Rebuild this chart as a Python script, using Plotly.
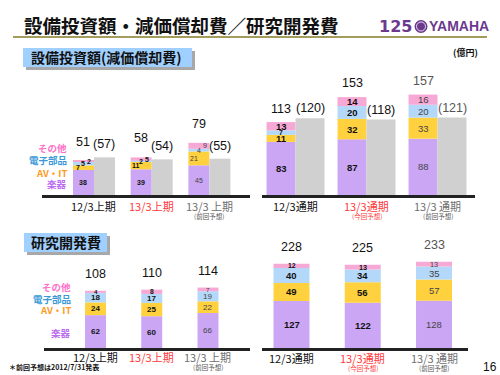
import numpy as np
import plotly.graph_objects as go

W, H = 500, 375
JP = "Noto Sans CJK JP"
NUM = "Liberation Sans"

# ---------------- data ----------------
segment_names = ["楽器", "AV・IT", "電子部品", "その他"]

capex_half_cats = ["12/3上期", "13/3上期", "13/3 上期"]
capex_half_sub = ["", "", "(前回予想)"]
capex_half_gakki = [38, 39, 45]
capex_half_avit = [7, 11, 21]
capex_half_denshi = [5, 2, 4]
capex_half_other = [2, 5, 9]
capex_half_total = [51, 58, 79]
depr_half = [57, 54, 55]

capex_full_cats = ["12/3通期", "13/3通期", "13/3 通期"]
capex_full_sub = ["", "(今回予想)", "(前回予想)"]
capex_full_gakki = [83, 87, 88]
capex_full_avit = [11, 32, 33]
capex_full_denshi = [7, 20, 20]
capex_full_other = [13, 14, 16]
capex_full_total = [113, 153, 157]
depr_full = [120, 118, 121]

rd_half_cats = ["12/3上期", "13/3上期", "13/3 上期"]
rd_half_sub = ["", "", "(前回予想)"]
rd_half_gakki = [62, 60, 66]
rd_half_avit = [24, 25, 22]
rd_half_denshi = [18, 17, 19]
rd_half_other = [4, 8, 7]
rd_half_total = [108, 110, 114]

rd_full_cats = ["12/3通期", "13/3通期", "13/3 通期"]
rd_full_sub = ["", "(今回予想)", "(前回予想)"]
rd_full_gakki = [127, 122, 128]
rd_full_avit = [49, 56, 57]
rd_full_denshi = [40, 34, 35]
rd_full_other = [12, 13, 13]
rd_full_total = [228, 225, 233]

# ---------------- style ----------------
seg_colors = ["#cba6f5", "#ffd13e", "#b3d8fa", "#f7a9d6"]
legend_colors = ["#bb6cf0", "#ff9a1e", "#3a9ad8", "#ff70c8"]
gray_color = "#d0d0d0"
cat_colors = ["#111111", "#ff3b3b", "#707070"]


def px(x):
    return x / W


def py(y):
    return 1 - y / H


panels = [
    dict(cats=capex_half_cats, sub=capex_half_sub,
         segs=[capex_half_gakki, capex_half_avit, capex_half_denshi, capex_half_other],
         total=capex_half_total, gray=depr_half,
         xdom=(42, 250), ydom=(95, 195), xr=(-0.901, 2.704), yr=(0, 151.5), w=0.364,
         seg_fs=7, seg_shift=[0, -5, 0, 6], tot_shift=19, gray_shift=13,
         lab_dy=11, sub_dy=21, tot_cols=["#111", "#111", "#111"]),
    dict(cats=capex_full_cats, sub=capex_full_sub,
         segs=[capex_full_gakki, capex_full_avit, capex_full_denshi, capex_full_other],
         total=capex_full_total, gray=depr_full,
         xdom=(262, 475), ydom=(60, 195), xr=(-0.472, 2.528), yr=(0, 211), w=0.408,
         seg_fs=9.5, seg_shift=[0, 0, 0, 0], tot_shift=14, gray_shift=10,
         lab_dy=11, sub_dy=21, tot_cols=["#111", "#111", "#555"]),
    dict(cats=rd_half_cats, sub=rd_half_sub,
         segs=[rd_half_gakki, rd_half_avit, rd_half_denshi, rd_half_other],
         total=rd_half_total, gray=None,
         xdom=(44, 250), ydom=(260, 348), xr=(-0.916, 2.747), yr=(0, 166), w=0.373,
         seg_fs=8, seg_shift=[0, 0, 0, 0], tot_shift=17, gray_shift=0,
         lab_dy=9, sub_dy=19, tot_cols=["#111", "#111", "#111"]),
    dict(cats=rd_full_cats, sub=rd_full_sub,
         segs=[rd_full_gakki, rd_full_avit, rd_full_denshi, rd_full_other],
         total=rd_full_total, gray=None,
         xdom=(262, 468), ydom=(230, 348), xr=(-0.414, 2.477), yr=(0, 319), w=0.505,
         seg_fs=9.5, seg_shift=[0, 0, 0, 0], tot_shift=17, gray_shift=0,
         lab_dy=10, sub_dy=20, tot_cols=["#111", "#111", "#555"]),
]

fig = go.Figure()
annotations = []
layout_axes = {}

for k, p in enumerate(panels, start=1):
    xa = "x" if k == 1 else f"x{k}"
    ya = "y" if k == 1 else f"y{k}"
    xkey = "xaxis" if k == 1 else f"xaxis{k}"
    ykey = "yaxis" if k == 1 else f"yaxis{k}"
    layout_axes[xkey] = dict(domain=[px(p["xdom"][0]), px(p["xdom"][1])], range=list(p["xr"]),
                             anchor=ya, showline=True, linecolor="#222", linewidth=3,
                             showgrid=False, zeroline=False, showticklabels=False, ticks="",
                             fixedrange=True)
    layout_axes[ykey] = dict(domain=[py(p["ydom"][1]), py(p["ydom"][0])], range=list(p["yr"]),
                             anchor=xa, visible=False, showgrid=False, zeroline=False,
                             fixedrange=True)
    n = len(p["cats"])
    idx = np.arange(n)
    w = p["w"]
    has_gray = p["gray"] is not None
    off = -w if has_gray else -w / 2
    ccenter = idx + off + w / 2
    px_per_unit = (p["ydom"][1] - p["ydom"][0]) / (p["yr"][1] - p["yr"][0])
    base = np.zeros(n)
    for j, seg in enumerate(p["segs"]):
        vals = np.array(seg, dtype=float)
        fig.add_trace(go.Bar(x=idx, y=vals, base=base.copy(), width=w, offset=off,
                             marker=dict(color=seg_colors[j], line=dict(width=0)),
                             xaxis=xa, yaxis=ya, showlegend=False, hoverinfo="skip"))
        for i in range(n):
            last = (i == n - 1)
            fs = p["seg_fs"] if k == 1 else max(6.0, min(p["seg_fs"], vals[i] * px_per_unit + 2.5))
            annotations.append(dict(
                x=ccenter[i], y=base[i] + vals[i] / 2, xref=xa, yref=ya,
                text=str(seg[i]), showarrow=False, xshift=p["seg_shift"][j],
                font=dict(family=NUM, size=fs, color="#444" if last else "#111",
                          weight="normal" if last else "bold")))
        base = base + vals
    for i in range(n):
        annotations.append(dict(x=ccenter[i], y=p["total"][i], xref=xa, yref=ya,
                                text=str(p["total"][i]), showarrow=False, yshift=p["tot_shift"],
                                font=dict(family=NUM, size=12.5, color=p["tot_cols"][i])))
    if has_gray:
        fig.add_trace(go.Bar(x=idx, y=p["gray"], width=w, offset=0,
                             marker=dict(color=gray_color, line=dict(width=0)),
                             xaxis=xa, yaxis=ya, showlegend=False, hoverinfo="skip"))
        for i in range(n):
            annotations.append(dict(x=idx[i] + w / 2, y=p["gray"][i], xref=xa, yref=ya,
                                    text=f"({p['gray'][i]})", showarrow=False,
                                    yshift=p["gray_shift"],
                                    font=dict(family=NUM, size=12.5, color=p["tot_cols"][i])))
    # category labels
    for i in range(n):
        annotations.append(dict(x=idx[i], y=py(p["ydom"][1] + p["lab_dy"]), xref=xa, yref="paper",
                                text=p["cats"][i], showarrow=False, yanchor="middle",
                                font=dict(family=JP, size=11, color=cat_colors[i])))
        if p["sub"][i]:
            annotations.append(dict(x=idx[i], y=py(p["ydom"][1] + p["sub_dy"]), xref=xa,
                                    yref="paper", text=p["sub"][i], showarrow=False,
                                    yanchor="middle",
                                    font=dict(family=JP, size=6.5,
                                              color=cat_colors[i] if i == 1 else "#555")))

# segment legends (text)
legend_pos_top = [184, 172.7, 159.5, 148]
legend_pos_bot = [333, 310, 299, 287]
for j, name in enumerate(segment_names):
    annotations.append(dict(x=px(69), y=py(legend_pos_top[j]), xref="paper", yref="paper",
                            text=name, showarrow=False, xanchor="right", yanchor="middle",
                            font=dict(family=JP, size=9.5, color=legend_colors[j], weight="bold")))
    annotations.append(dict(x=px(73), y=py(legend_pos_bot[j]), xref="paper", yref="paper",
                            text=name, showarrow=False, xanchor="right", yanchor="middle",
                            font=dict(family=JP, size=9.5, color=legend_colors[j], weight="bold")))

# title and page decorations
annotations += [
    dict(x=px(22), y=py(25), xref="paper", yref="paper", text="設備投資額・減価償却費／研究開発費",
         showarrow=False, xanchor="left", yanchor="middle",
         font=dict(family=JP, size=18.5, color="#111", weight="bold")),
    dict(x=px(377), y=py(26.5), xref="paper", yref="paper", text="125", showarrow=False,
         xanchor="left", yanchor="middle",
         font=dict(family="DejaVu Sans", size=16, color="#6b3a8e", weight="bold")),
    dict(x=px(427), y=py(26.5), xref="paper", yref="paper", text="YAMAHA", showarrow=False,
         xanchor="left", yanchor="middle",
         font=dict(family=NUM, size=14, color="#6b3a8e", weight="bold")),
    dict(x=px(29), y=py(57.5), xref="paper", yref="paper", text="設備投資額(減価償却費)",
         showarrow=False, xanchor="left", yanchor="middle",
         font=dict(family=JP, size=14, color="#111", weight="bold")),
    dict(x=px(29), y=py(242.5), xref="paper", yref="paper", text="研究開発費",
         showarrow=False, xanchor="left", yanchor="middle",
         font=dict(family=JP, size=14, color="#111", weight="bold")),
    dict(x=px(465), y=py(53), xref="paper", yref="paper", text="(億円)", showarrow=False,
         xanchor="center", yanchor="middle",
         font=dict(family=JP, size=9, color="#111", weight="bold")),
    dict(x=px(7), y=py(367), xref="paper", yref="paper", text="＊前回予想は2012/7/31発表",
         showarrow=False, xanchor="left", yanchor="middle",
         font=dict(family=JP, size=7, color="#111", weight="bold")),
    dict(x=px(490), y=py(367), xref="paper", yref="paper", text="16", showarrow=False,
         xanchor="center", yanchor="middle", font=dict(family=NUM, size=12, color="#111")),
]

shapes = [
    dict(type="line", xref="paper", yref="paper", x0=px(13), x1=px(487), y0=py(37), y1=py(37),
         line=dict(color="#a39c5a", width=2)),
    # header boxes with shadow
    dict(type="rect", xref="paper", yref="paper", x0=px(26), x1=px(195), y0=py(70), y1=py(51),
         fillcolor="#a8a8a8", line=dict(width=0)),
    dict(type="rect", xref="paper", yref="paper", x0=px(23), x1=px(192), y0=py(67), y1=py(48),
         fillcolor="#a0d0ff", line=dict(width=0)),
    dict(type="rect", xref="paper", yref="paper", x0=px(27), x1=px(110), y0=py(255), y1=py(236),
         fillcolor="#a8a8a8", line=dict(width=0)),
    dict(type="rect", xref="paper", yref="paper", x0=px(24), x1=px(107), y0=py(252), y1=py(233),
         fillcolor="#a0d0ff", line=dict(width=0)),
    # logo emblem
    dict(type="circle", xref="paper", yref="paper", x0=px(414.5), x1=px(427.5), y0=py(33), y1=py(20),
         fillcolor="#6b3a8e", line=dict(width=0)),
    dict(type="circle", xref="paper", yref="paper", x0=px(416.5), x1=px(425.5), y0=py(31), y1=py(22),
         fillcolor="rgba(0,0,0,0)", line=dict(color="#e8d8f0", width=1)),
]

fig.update_layout(
    width=W, height=H, margin=dict(l=0, r=0, t=0, b=0),
    paper_bgcolor="white", plot_bgcolor="rgba(0,0,0,0)",
    barmode="overlay", showlegend=False,
    annotations=annotations, shapes=shapes, **layout_axes,
)

fig.write_html("out.html", config={"displayModeBar": False},
               post_script="document.body.style.margin='0px';document.body.style.overflow='hidden';")
